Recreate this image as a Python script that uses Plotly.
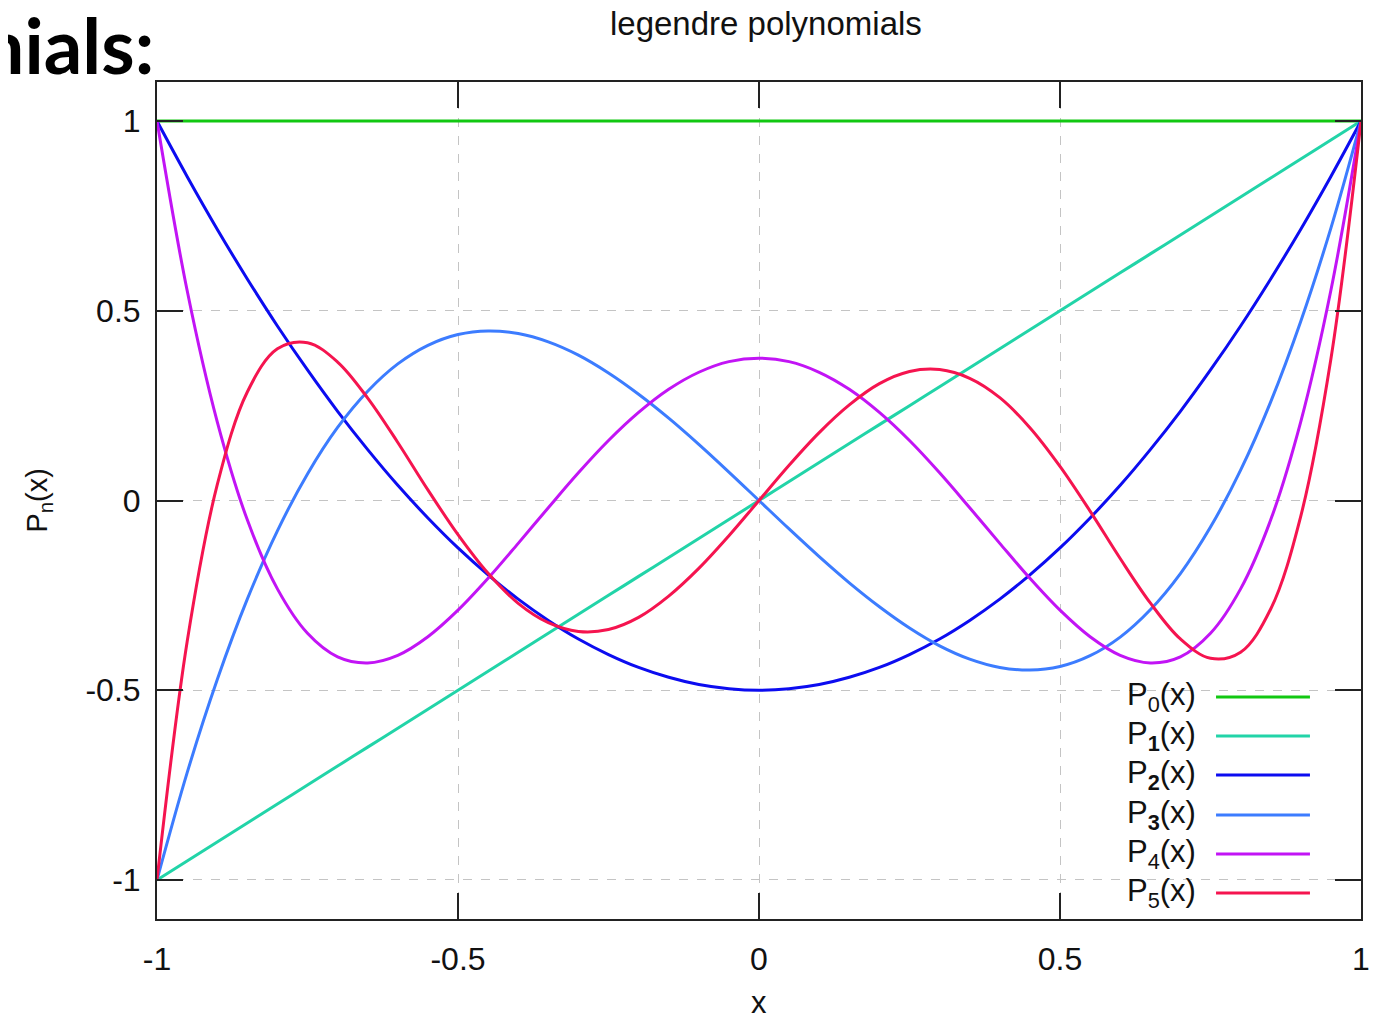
import plotly.graph_objects as go

x_vals = [-1.0, -0.95, -0.9, -0.85, -0.8, -0.75, -0.7, -0.65, -0.6, -0.55, -0.5,
          -0.45, -0.4, -0.35, -0.3, -0.25, -0.2, -0.15, -0.1, -0.05, 0.0,
          0.05, 0.1, 0.15, 0.2, 0.25, 0.3, 0.35, 0.4, 0.45, 0.5,
          0.55, 0.6, 0.65, 0.7, 0.75, 0.8, 0.85, 0.9, 0.95, 1.0]

p0 = [1.0] * 41

p1 = [-1.0, -0.95, -0.9, -0.85, -0.8, -0.75, -0.7, -0.65, -0.6, -0.55, -0.5,
      -0.45, -0.4, -0.35, -0.3, -0.25, -0.2, -0.15, -0.1, -0.05, 0.0,
      0.05, 0.1, 0.15, 0.2, 0.25, 0.3, 0.35, 0.4, 0.45, 0.5,
      0.55, 0.6, 0.65, 0.7, 0.75, 0.8, 0.85, 0.9, 0.95, 1.0]

p2 = [1.0, 0.854, 0.715, 0.584, 0.46, 0.344, 0.235, 0.134, 0.04, -0.046, -0.125,
      -0.196, -0.26, -0.316, -0.365, -0.406, -0.44, -0.466, -0.485, -0.496, -0.5,
      -0.496, -0.485, -0.466, -0.44, -0.406, -0.365, -0.316, -0.26, -0.196, -0.125,
      -0.046, 0.04, 0.134, 0.235, 0.344, 0.46, 0.584, 0.715, 0.854, 1.0]

p3 = [-1.0, -0.718, -0.4725, -0.26, -0.08, 0.07, 0.1925, 0.288, 0.36, 0.409, 0.4375,
      0.447, 0.44, 0.418, 0.383, 0.336, 0.28, 0.217, 0.148, 0.075, 0.0,
      -0.075, -0.148, -0.217, -0.28, -0.336, -0.383, -0.418, -0.44, -0.447, -0.4375,
      -0.409, -0.36, -0.288, -0.1925, -0.07, 0.08, 0.26, 0.4725, 0.718, 1.0]

p4 = [1.0, 0.554, 0.208, -0.051, -0.233, -0.35, -0.412, -0.428, -0.408, -0.359, -0.289,
      -0.205, -0.113, -0.019, 0.073, 0.158, 0.232, 0.293, 0.338, 0.366, 0.375,
      0.366, 0.338, 0.293, 0.232, 0.158, 0.073, -0.019, -0.113, -0.205, -0.289,
      -0.359, -0.408, -0.428, -0.412, -0.35, -0.233, -0.051, 0.208, 0.554, 1.0]

p5 = [-1.0, -0.373, 0.041, 0.286, 0.4, 0.416, 0.365, 0.27, 0.153, 0.028, -0.09,
      -0.192, -0.271, -0.322, -0.345, -0.34, -0.308, -0.252, -0.179, -0.093, 0.0,
      0.093, 0.179, 0.252, 0.308, 0.34, 0.345, 0.322, 0.271, 0.192, 0.09,
      -0.028, -0.153, -0.27, -0.365, -0.416, -0.4, -0.286, -0.041, 0.373, 1.0]

series = [p0, p1, p2, p3, p4, p5]
labels = ["P<sub>0</sub>(x)", "P<sub><b>1</b></sub>(x)", "P<sub><b>2</b></sub>(x)",
          "P<sub><b>3</b></sub>(x)", "P<sub>4</sub>(x)", "P<sub>5</sub>(x)"]
colors = ["#12c812", "#22d4a8", "#0c0cf0", "#3c7cff", "#c214f5", "#f5144f"]

x_ticks = [-1, -0.5, 0, 0.5, 1]
x_tick_text = ["-1", "-0.5", "0", "0.5", "1"]
y_ticks = [-1, -0.5, 0, 0.5, 1]
y_tick_text = ["-1", "-0.5", "0", "0.5", "1"]

FONT = "Liberation Sans, Arial, sans-serif"

fig = go.Figure()
for ys, lab, col in zip(series, labels, colors):
    fig.add_trace(go.Scatter(x=x_vals, y=ys, mode="lines", name=lab,
                             line=dict(color=col, width=3, shape="spline", smoothing=1.0),
                             showlegend=False))

# custom gnuplot-like legend (text left of sample line)
row_y = [0.2652, 0.2186, 0.1720, 0.1243, 0.0777, 0.0311]
for lab, col, ry in zip(labels, colors, row_y):
    fig.add_annotation(xref="paper", yref="paper", x=0.8645, y=ry, text=lab,
                       showarrow=False, xanchor="right", yanchor="middle",
                       font=dict(family=FONT, size=31, color="#111"))
    fig.add_shape(type="line", xref="paper", yref="paper", x0=0.8796, x1=0.9576,
                  y0=ry, y1=ry, line=dict(color=col, width=3))

axis_common = dict(
    showline=True, linecolor="#222", linewidth=2, mirror="ticks",
    ticks="inside", ticklen=26, tickwidth=2, tickcolor="#222",
    showgrid=True, gridcolor="#c4c4c4", gridwidth=1.2, griddash="dash",
    zeroline=False, tickfont=dict(family=FONT, size=32, color="#111"),
)

fig.update_xaxes(range=[-1, 1], tickvals=x_ticks, ticktext=x_tick_text,
                 ticklabelstandoff=11, **axis_common)
fig.update_yaxes(range=[-1.103, 1.103], tickvals=y_ticks, ticktext=y_tick_text,
                 ticklabelstandoff=8, **axis_common)

# axis labels
fig.add_annotation(xref="paper", yref="paper", x=0.5, y=-0.1003, text="x",
                   showarrow=False, xanchor="center", yanchor="middle",
                   font=dict(family=FONT, size=31, color="#111"))
fig.add_annotation(xref="paper", yref="paper", x=-0.0988, y=0.5, text="P<sub>n</sub>(x)",
                   showarrow=False, xanchor="center", yanchor="middle", textangle=-90,
                   font=dict(family=FONT, size=29, color="#111"))

# slide heading fragment, cropped at the left edge
fig.add_annotation(xref="paper", yref="paper", x=-0.0008, y=1.0454,
                   text="<b>Legendre Polynomials:</b>", showarrow=False,
                   xanchor="right", yanchor="middle",
                   font=dict(family="Lato, Open Sans, sans-serif", size=76, color="#000"))

# page body has an 8px margin: size the figure so the plot sits where the reference has it
fig.update_layout(
    width=1373, height=1010,
    margin=dict(l=149, r=20, t=74, b=99),
    paper_bgcolor="white", plot_bgcolor="white",
    title=dict(text="legendre polynomials", x=0.552, xanchor="center",
               y=0.985, yanchor="middle", yref="container",
               font=dict(family=FONT, size=33, color="#111")),
)

fig.write_html("out.html")
